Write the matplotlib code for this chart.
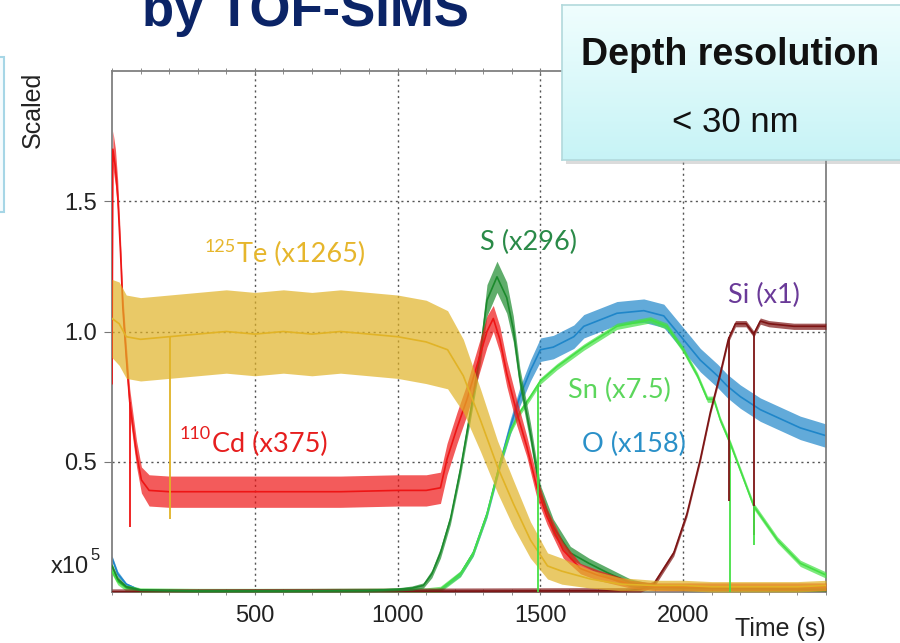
import matplotlib
matplotlib.use('Agg')
import matplotlib.pyplot as plt
import numpy as np
from matplotlib.ticker import MultipleLocator, FormatStrFormatter
from matplotlib.patches import Rectangle

# depth profile values (time in s, scaled intensity)
te_t = [0, 25, 50, 100, 200, 300, 400, 500, 600, 700, 800, 900, 1000, 1100, 1175, 1230,
        1290, 1350, 1405, 1465, 1525, 1575, 1675, 1780, 1900, 2000, 2100, 2200, 2300, 2400, 2500]
te_v = [1.05, 1.03, 0.98, 0.97, 0.98, 0.99, 1.00, 0.99, 1.00, 0.99, 1.00, 0.99, 0.98, 0.96, 0.93, 0.83,
        0.66, 0.48, 0.34, 0.20, 0.10, 0.08, 0.05, 0.03, 0.025, 0.025, 0.02, 0.02, 0.02, 0.02, 0.025]
te_n = [0.15, 0.16, 0.16, 0.16, 0.16, 0.16, 0.16, 0.16, 0.16, 0.16, 0.16, 0.16, 0.16, 0.16, 0.15, 0.14,
        0.12, 0.10, 0.09, 0.07, 0.05, 0.05, 0.035, 0.025, 0.02, 0.02, 0.02, 0.02, 0.02, 0.02, 0.02]

cd_t = [0, 3, 12, 20, 30, 38, 50, 62, 75, 86, 103, 130, 200, 400, 600, 800, 1000, 1100, 1150, 1173,
        1208, 1243, 1278, 1313, 1335, 1358, 1382, 1417, 1452, 1488, 1523, 1580, 1640, 1700, 1815,
        1900, 2100, 2300, 2500]
cd_v = [0.80, 1.70, 1.63, 1.52, 1.30, 1.09, 0.90, 0.73, 0.62, 0.53, 0.43, 0.39, 0.385, 0.385, 0.385,
        0.385, 0.39, 0.39, 0.40, 0.51, 0.63, 0.74, 0.87, 1.00, 1.05, 0.97, 0.84, 0.69, 0.56, 0.40,
        0.29, 0.16, 0.09, 0.065, 0.03, 0.02, 0.02, 0.02, 0.02]
cd_n = [0.02, 0.07, 0.07, 0.06, 0.05, 0.05, 0.05, 0.05, 0.05, 0.05,
        0.05, 0.06, 0.06, 0.06, 0.06, 0.06, 0.06, 0.06, 0.06, 0.06, 0.06, 0.06, 0.06, 0.06,
        0.05, 0.05, 0.05, 0.05, 0.04, 0.04,
        0.03, 0.03, 0.02, 0.02, 0.015,
        0.015, 0.015, 0.015, 0.015]

s_t = [0, 20, 50, 100, 300, 600, 900, 1000, 1050, 1090, 1120, 1150, 1185, 1220, 1255, 1290, 1313,
       1348, 1382, 1405, 1428, 1465, 1500, 1545, 1605, 1670, 1733, 1815, 1900, 2000, 2500]
s_v = [0.10, 0.05, 0.02, 0.008, 0.004, 0.004, 0.006, 0.01, 0.015, 0.025, 0.07, 0.15, 0.28, 0.47,
       0.69, 0.92, 1.12, 1.21, 1.13, 1.01, 0.82, 0.61, 0.38, 0.25, 0.15, 0.11, 0.075, 0.035, 0.02,
       0.015, 0.01]
s_n = [0.01, 0.01, 0.005, 0.004, 0.004, 0.004, 0.005, 0.006, 0.008, 0.01, 0.015, 0.02, 0.02, 0.025,
       0.03, 0.04, 0.06, 0.06, 0.06, 0.05, 0.04, 0.04, 0.03, 0.03, 0.025, 0.02, 0.02, 0.015, 0.01,
       0.01, 0.008]

o_t = [0, 20, 50, 100, 300, 700, 1100, 1150, 1220, 1265, 1313, 1360, 1395, 1428, 1465, 1500, 1545,
       1617, 1652, 1768, 1862, 1932, 2000, 2060, 2120, 2155, 2200, 2270, 2330, 2410, 2500]
o_v = [0.13, 0.07, 0.03, 0.006, 0.002, 0.002, 0.004, 0.01, 0.07, 0.15, 0.30, 0.50, 0.635, 0.75,
       0.85, 0.93, 0.94, 0.98, 1.02, 1.07, 1.08, 1.06, 0.97, 0.89, 0.83, 0.79, 0.75, 0.70, 0.67,
       0.63, 0.60]
o_n = [0.01, 0.01, 0.005, 0.003, 0.002, 0.002, 0.003, 0.005, 0.01, 0.012, 0.015, 0.02, 0.03, 0.035,
       0.04, 0.045, 0.045, 0.045, 0.045, 0.045, 0.045, 0.045, 0.045, 0.045, 0.045, 0.045, 0.045,
       0.045, 0.045, 0.045, 0.045]

sn_t = [0, 20, 50, 100, 300, 700, 1100, 1150, 1220, 1265, 1313, 1360, 1395, 1428, 1465, 1500,
        1558, 1652, 1768, 1885, 1943, 2000, 2050, 2085, 2107, 2130, 2165, 2247, 2330, 2410, 2500]
sn_v = [0.08, 0.04, 0.015, 0.004, 0.002, 0.002, 0.004, 0.01, 0.07, 0.15, 0.30, 0.50, 0.62, 0.69,
        0.75, 0.81, 0.865, 0.94, 1.02, 1.045, 1.02, 0.93, 0.83, 0.74, 0.74, 0.66, 0.57, 0.33, 0.20,
        0.11, 0.065]
sn_n = 0.012

si_t = [0, 1800, 1850, 1897, 1967, 2013, 2060, 2095, 2130, 2158, 2183, 2220, 2247, 2270, 2300,
        2387, 2450, 2500]
si_v = [0.0, 0.005, 0.01, 0.03, 0.15, 0.30, 0.51, 0.69, 0.84, 0.97, 1.03, 1.03, 0.99, 1.04, 1.03,
        1.02, 1.02, 1.02]
si_n = 0.012

# single-point drop-outs seen in the traces
spike_t = [62, 203, 1490, 2165, 2162, 2247, 2247]
spike_top = [0.73, 0.98, 0.80, 0.57, 0.98, 1.00, 0.33]
spike_bot = [0.25, 0.28, 0.0, 0.0, 0.35, 0.22, 0.18]
spike_ser = ['Cd', 'Te', 'Sn', 'Sn', 'Si', 'Si', 'Sn']

colors = {'Te': '#e1b326', 'Cd': '#ee1515', 'S': '#1b8a2c', 'O': '#1f86c9',
          'Sn': '#45e045', 'Si': '#7d1414'}

plt.rcParams['font.family'] = ['Liberation Sans', 'DejaVu Sans']

W, H = 900, 643
def fx(px):
    return px / W
def fy(py):
    return 1 - py / H

fig = plt.figure(figsize=(9, 6.43), dpi=100)
ax = fig.add_axes([fx(112), fy(592), fx(826) - fx(112), fy(71) - fy(592)])


def trace(t, v, n, col, z):
    t = np.array(t)
    v = np.array(v)
    n = np.array(n) * np.ones_like(v)
    ax.fill_between(t, np.clip(v - n, 0, None), v + n, color=col, alpha=0.7, lw=0, zorder=z)
    ax.plot(t, v, color=col, lw=1.2, zorder=z)


trace(o_t, o_v, o_n, colors['O'], 2)
trace(sn_t, sn_v, sn_n, colors['Sn'], 3)
trace(si_t, si_v, si_n, colors['Si'], 3)
trace(s_t, s_v, s_n, colors['S'], 4)
trace(cd_t, cd_v, cd_n, colors['Cd'], 5)
trace(te_t, te_v, te_n, colors['Te'], 6)
for t, a, b, k in zip(spike_t, spike_top, spike_bot, spike_ser):
    ax.vlines(t, b, a, color=colors[k], lw=1.3, zorder=6)

ax.set_xlim(0, 2500)
ax.set_ylim(0, 2.0)
ax.set_xticks([500, 1000, 1500, 2000])
ax.xaxis.set_minor_locator(MultipleLocator(100))
ax.set_yticks([0.5, 1.0, 1.5])
ax.yaxis.set_major_formatter(FormatStrFormatter('%.1f'))
ax.grid(True, which='major', linestyle=(0, (1.5, 2.5)), color='#555555', lw=1)
ax.set_axisbelow(True)
ax.tick_params(axis='x', which='both', direction='inout', length=5, top=True,
               color='#777777', labelsize=17, labelcolor='#222222', pad=7)
ax.tick_params(axis='y', which='both', direction='out', length=6, color='#777777',
               labelsize=17, labelcolor='#222222', pad=5)
for sp in ax.spines.values():
    sp.set_color('#808080')
    sp.set_linewidth(1.3)

lab = dict(family=['Lato', 'DejaVu Sans'], fontsize=19.5, va='baseline', zorder=8)
ax.text(437, 1.267, 'Te (x1265)', color='#e6b62c', **lab)
ax.annotate('125', xy=(437, 1.267), xytext=(-1, 7), textcoords='offset points', ha='right',
            va='baseline', color='#e6b62c', fontsize=13, family=['Lato', 'DejaVu Sans'])
ax.text(350, 0.538, 'Cd (x375)', color='#e61e1e', **lab)
ax.annotate('110', xy=(350, 0.538), xytext=(-1, 9), textcoords='offset points', ha='right',
            va='baseline', color='#e61e1e', fontsize=13, family=['Lato', 'DejaVu Sans'])
ax.text(1288, 1.313, 'S (x296)', color='#2a8a48', **lab)
ax.text(2158, 1.11, 'Si (x1)', color='#6a3a98', **lab)
ax.text(1597, 0.746, 'Sn (x7.5)', color='#5cd65c', **lab)
ax.text(1646, 0.538, 'O (x158)', color='#2a90c8', **lab)

fig.text(fx(826), fy(636), 'Time (s)', ha='right', va='baseline', fontsize=18, color='#222222')
fig.text(fx(33), fy(110), 'Scaled', rotation=90, ha='center', va='center', fontsize=18,
         color='#222222')
fig.text(fx(89), fy(573), 'x10', ha='right', va='baseline', fontsize=17, color='#222222')
fig.text(fx(90), fy(560), '5', ha='left', va='baseline', fontsize=12, color='#222222')

fig.text(fx(305), fy(26), 'by TOF-SIMS', ha='center', va='baseline', fontsize=38,
         fontweight='bold', color='#0b2467')

# partial box at left edge of the slide
fig.add_artist(Rectangle((fx(-20), fy(212)), fx(24), fy(57) - fy(212), transform=fig.transFigure,
                         facecolor='#f5fbfd', edgecolor='#a6d6e6', lw=1.5, zorder=1))

# "Depth resolution" call-out box
fig.add_artist(Rectangle((fx(566), fy(164)), fx(340), fy(9) - fy(164), transform=fig.transFigure,
                         facecolor='#9a9a9a', alpha=0.35, lw=0, zorder=9))
bx = fig.add_axes([fx(562), fy(160), fx(345), fy(5) - fy(160)], zorder=10)
grad = np.linspace(0, 1, 60)[:, None]
top_c = np.array([0.94, 0.995, 0.995])
bot_c = np.array([0.78, 0.955, 0.965])
img = top_c[None, None, :] * (1 - grad[:, :, None]) + bot_c[None, None, :] * grad[:, :, None]
bx.imshow(img, aspect='auto', extent=[0, 1, 0, 1])
bx.set_xlim(0, 1)
bx.set_ylim(0, 1)
bx.set_xticks([])
bx.set_yticks([])
for k, sp in bx.spines.items():
    sp.set_color('#b2d9dc')
    sp.set_linewidth(1.2)
bx.spines['right'].set_visible(False)
fig.text(fx(730), fy(65), 'Depth resolution', ha='center', va='baseline', fontsize=27,
         fontweight='bold', color='#111111', zorder=11)
fig.text(fx(735), fy(132), '< 30 nm', ha='center', va='baseline', fontsize=25,
         color='#111111', zorder=11)

fig.savefig('out.png', dpi=100)
